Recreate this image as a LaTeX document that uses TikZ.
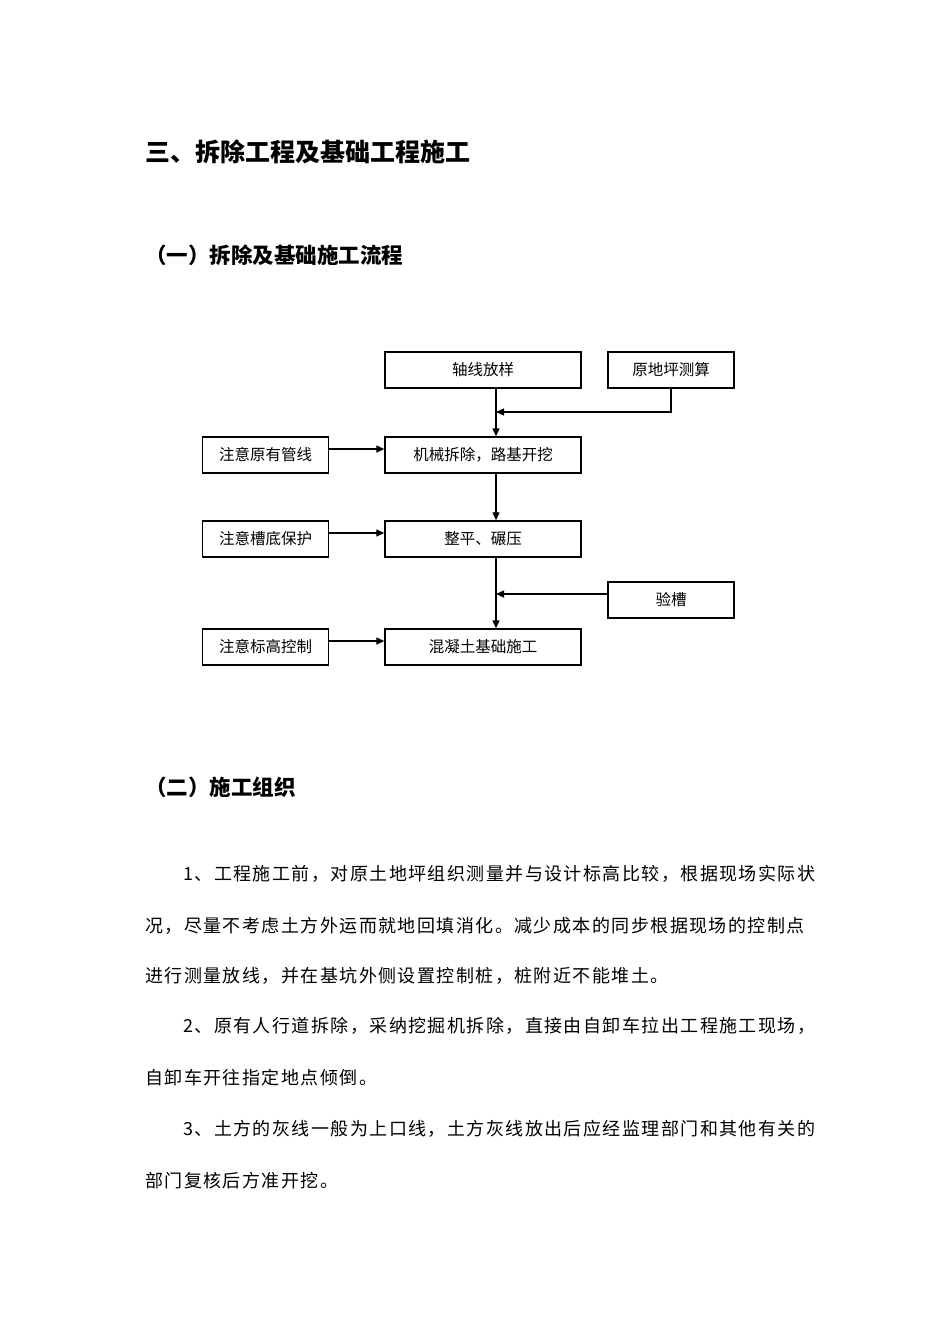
\documentclass[tikz,border=0pt]{standalone}
\usepackage{fontspec}
\setmainfont{Noto Sans CJK SC}
\newfontfamily\bodyfont[LetterSpace=8]{Noto Sans CJK SC}
\usepackage{tikz}
\usetikzlibrary{positioning,arrows.meta}

\begin{document}
\begin{tikzpicture}[x=1pt,y=-1pt,
		box/.style={draw, line width=1.4pt, minimum height=36pt, inner sep=0pt,
			font=\fontsize{15.5}{16}\selectfont},
		mainbox/.style={box, minimum width=196pt},
		sidebox/.style={box, minimum width=126pt},
		arr/.style={-{Triangle[length=8pt,width=7pt]}, line width=1.3pt},
		head/.style={anchor=west, inner sep=0pt, font=\bfseries\fontsize{25}{28}\selectfont},
		subhead/.style={anchor=west, inner sep=0pt, font=\bfseries\fontsize{21.5}{24}\selectfont},
		para/.style={anchor=west, inner sep=0pt, font=\bodyfont\fontsize{18}{20}\selectfont}]
	\useasboundingbox[fill=white] (0,0) rectangle (950,1344);

	% headings
	\node[head] (title) at (145,152) {三、拆除工程及基础工程施工};
	\node[subhead] (sec1) at (145,255) {（一）拆除及基础施工流程};

	% flow chart
	\node[mainbox] (axis) at (483,370) {轴线放样};
	\node[sidebox] (survey) at (671,370) {原地坪测算};
	\node[mainbox] (demol) at (483,455) {机械拆除，路基开挖};
	\node[sidebox, left=55pt of demol] (pipes) {注意原有管线};
	\node[mainbox] (level) at (483,539) {整平、碾压};
	\node[sidebox, left=55pt of level] (protect) {注意槽底保护};
	\node[sidebox] (check) at (671,600) {验槽};
	\node[mainbox] (found) at (483,647) {混凝土基础施工};
	\node[sidebox, left=55pt of found] (elev) {注意标高控制};

	\coordinate (spine) at (496,0);
	\coordinate (joinA) at (496,412);
	\coordinate (joinB) at (496,594);

	\draw[arr] (axis.south -| spine) -- (demol.north -| spine);
	\draw[arr] (survey.south) |- (joinA);
	\draw[arr] (demol.south -| spine) -- (level.north -| spine);
	\draw[arr] (level.south -| spine) -- (found.north -| spine);
	\draw[arr] (check.west |- joinB) -- (joinB);
	\draw[arr] ([yshift=6pt]pipes.east) -- ([yshift=6pt]demol.west);
	\draw[arr] ([yshift=6pt]protect.east) -- ([yshift=6pt]level.west);
	\draw[arr] ([yshift=6pt]elev.east) -- ([yshift=6pt]found.west);

	% section two
	\node[subhead] (sec2) at (145,787) {（二）施工组织};
	\node[para] (p1a) at (183,874) {1、工程施工前，对原土地坪组织测量并与设计标高比较，根据现场实际状};
	\node[para] (p1b) at (145,926) {况，尽量不考虑土方外运而就地回填消化。减少成本的同步根据现场的控制点};
	\node[para] (p1c) at (145,976) {进行测量放线，并在基坑外侧设置控制桩，桩附近不能堆土。};
	\node[para] (p2a) at (183,1026) {2、原有人行道拆除，采纳挖掘机拆除，直接由自卸车拉出工程施工现场，};
	\node[para] (p2b) at (145,1078) {自卸车开往指定地点倾倒。};
	\node[para] (p3a) at (183,1129) {3、土方的灰线一般为上口线，土方灰线放出后应经监理部门和其他有关的};
	\node[para] (p3b) at (145,1181) {部门复核后方准开挖。};
\end{tikzpicture}
\end{document}
